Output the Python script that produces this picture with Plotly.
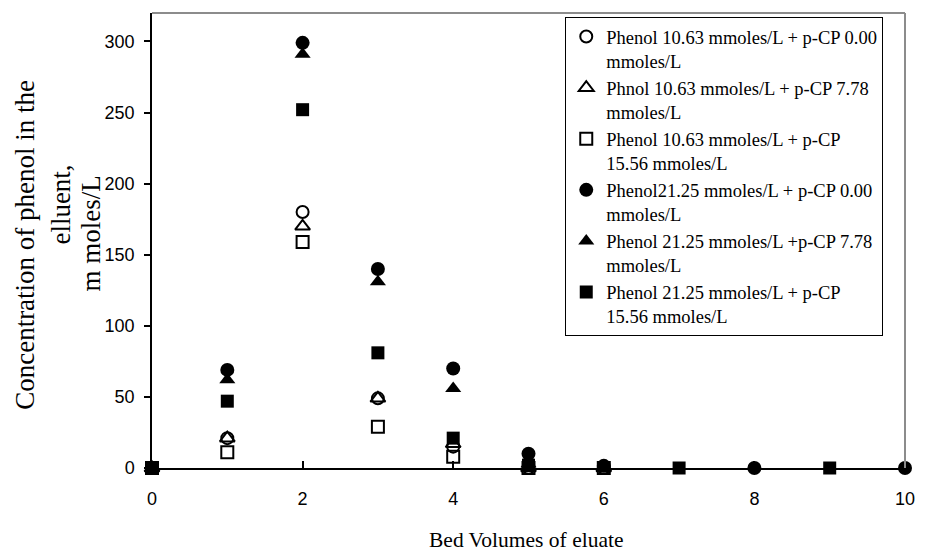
import plotly.graph_objects as go

bed_volumes = [0, 1, 2, 3, 4, 5, 6, 7, 8, 9, 10]

names = [
    "Phenol 10.63 mmoles/L + p-CP 0.00<br>mmoles/L",
    "Phnol 10.63 mmoles/L + p-CP 7.78<br>mmoles/L",
    "Phenol 10.63 mmoles/L + p-CP<br>15.56 mmoles/L",
    "Phenol21.25 mmoles/L + p-CP 0.00<br>mmoles/L",
    "Phenol 21.25 mmoles/L +p-CP 7.78<br>mmoles/L",
    "Phenol 21.25 mmoles/L + p-CP<br>15.56 mmoles/L",
]

s1_open_circle = [0, 21, 180, 49, 15, 0, 0, None, None, None, None]
s2_open_triangle = [0, 21, 170, 49, 17, 0, 0, None, None, None, None]
s3_open_square = [0, 11, 159, 29, 8, 0, 0, None, None, None, None]
s4_filled_circle = [0, 69, 299, 140, 70, 10, 1.5, None, 0, None, 0]
s5_filled_triangle = [0, 62, 291, 131, 56, 3, None, None, None, None, None]
s6_filled_square = [0, 47, 252, 81, 21, 2, None, 0, None, 0, None]

series = [s1_open_circle, s2_open_triangle, s3_open_square,
          s4_filled_circle, s5_filled_triangle, s6_filled_square]
symbols = ["circle-open", "triangle-up-open", "square-open",
           "circle", "triangle-up", "square"]
sizes = [12, 13, 12, 14, 14, 13]

fig = go.Figure()
for i, (ys, sym, sz) in enumerate(zip(series, symbols, sizes)):
    fig.add_trace(go.Scatter(
        x=bed_volumes, y=ys, mode="markers", name=names[i],
        legendgroup=f"g{i}",
        marker=dict(symbol=sym, size=sz, color="black",
                    line=dict(color="black", width=2 if "open" in sym else 0)),
        cliponaxis=False,
    ))

fig.update_layout(
    width=927, height=555,
    margin=dict(l=152, r=17, t=13, b=87),
    plot_bgcolor="white", paper_bgcolor="white",
    showlegend=True,
    legend=dict(
        x=(568 - 152) / 758, y=(468 - 17) / 455, xanchor="left", yanchor="top",
        bordercolor="black", borderwidth=1, bgcolor="white",
        font=dict(family="Liberation Serif", size=18.5, color="black"),
        valign="top", traceorder="grouped", tracegroupgap=0,
        itemwidth=30,
    ),
    xaxis=dict(
        range=[0, 10], tickvals=[0, 2, 4, 6, 8, 10],
        showgrid=False, zeroline=False,
        showline=True, linecolor="black", linewidth=1.5,
        ticks="inside", ticklen=7, tickcolor="black", tickwidth=1.5,
        tickfont=dict(family="Liberation Sans", size=18, color="black"),
        ticklabelstandoff=14,
    ),
    yaxis=dict(
        range=[0, 320], tickvals=[0, 50, 100, 150, 200, 250, 300],
        showgrid=False, zeroline=False,
        showline=True, linecolor="black", linewidth=1.5,
        ticks="outside", ticklen=6, tickcolor="black", tickwidth=1.5,
        tickfont=dict(family="Liberation Sans", size=18, color="black"),
        ticklabelstandoff=6,
    ),
)

# gray frame on top and right of plot area
fig.add_shape(type="line", xref="paper", yref="paper", x0=0, x1=1, y0=1, y1=1,
              line=dict(color="#8c8c8c", width=2))
fig.add_shape(type="line", xref="paper", yref="paper", x0=1, x1=1, y0=0, y1=1,
              line=dict(color="#8c8c8c", width=2))

ytitle_font = dict(family="Liberation Serif", size=27, color="black")
ytitle_lines = [("Concentration of phenol in the", 24, 245),
                ("elluent,", 60, 205),
                ("m moles/L", 91, 233)]
for txt, px, py in ytitle_lines:
    fig.add_annotation(text=txt, xref="paper", yref="paper",
                       x=(px - 152) / 758, y=(468 - py) / 455,
                       xanchor="center", yanchor="middle",
                       textangle=-90, showarrow=False, font=ytitle_font)

fig.add_annotation(text="Bed Volumes of eluate", xref="paper", yref="paper",
                   x=(528 - 152) / 758, y=-(540 - 468) / 455,
                   xanchor="center", yanchor="middle",
                   showarrow=False,
                   font=dict(family="Liberation Serif", size=21.5, color="black"))

fig.write_html("out.html")
